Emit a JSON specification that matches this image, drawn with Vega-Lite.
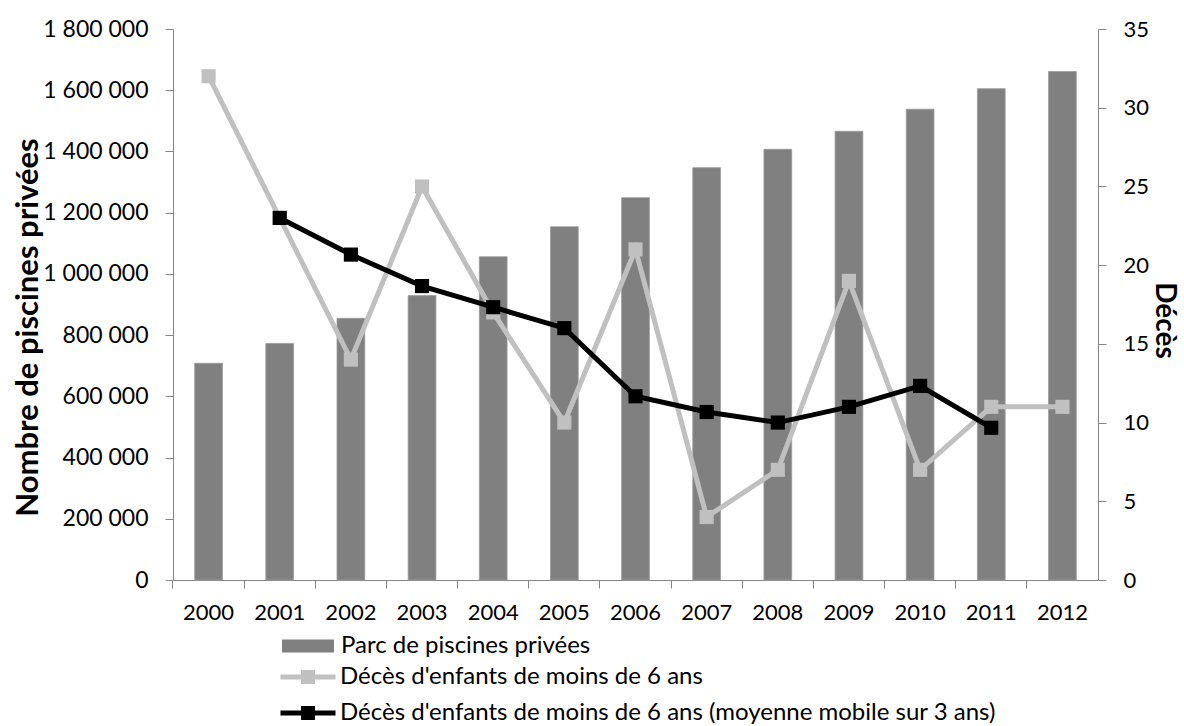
{
  "$schema": "https://vega.github.io/schema/vega-lite/v6.json",
  "width": 925,
  "height": 551,
  "autosize": {"type": "none"},
  "padding": {"left": 173, "top": 29, "right": 86, "bottom": 146},
  "background": "white",
  "config": {
    "font": "Lato",
    "view": {"stroke": null},
    "locale": {"number": {"decimal": ",", "thousands": " ", "grouping": [3], "currency": ["", " €"]}},
    "axis": {
      "domainColor": "#868686",
      "tickColor": "#868686",
      "tickSize": 8,
      "labelFont": "Lato",
      "labelFontSize": 22,
      "labelColor": "#000000",
      "titleFont": "Lato",
      "titleFontSize": 31,
      "titleFontWeight": "bold",
      "titleColor": "#000000",
      "grid": false
    },
    "legend": {
      "title": null,
      "orient": "none",
      "direction": "vertical",
      "labelFont": "Lato",
      "labelFontSize": 24,
      "labelColor": "#000000",
      "labelLimit": 1000,
      "symbolSize": 196,
      "rowPadding": 8
    }
  },
  "data": {
    "values": [
      {"year": "2000", "parc": 708000, "deces": 32, "moyenne": null},
      {"year": "2001", "parc": 773000, "deces": 23, "moyenne": 23},
      {"year": "2002", "parc": 855000, "deces": 14, "moyenne": 20.67},
      {"year": "2003", "parc": 929000, "deces": 25, "moyenne": 18.67},
      {"year": "2004", "parc": 1056000, "deces": 17, "moyenne": 17.33},
      {"year": "2005", "parc": 1154000, "deces": 10, "moyenne": 16},
      {"year": "2006", "parc": 1249000, "deces": 21, "moyenne": 11.67},
      {"year": "2007", "parc": 1347000, "deces": 4, "moyenne": 10.67},
      {"year": "2008", "parc": 1407000, "deces": 7, "moyenne": 10},
      {"year": "2009", "parc": 1466000, "deces": 19, "moyenne": 11},
      {"year": "2010", "parc": 1538000, "deces": 7, "moyenne": 12.33},
      {"year": "2011", "parc": 1605000, "deces": 11, "moyenne": 9.67},
      {"year": "2012", "parc": 1661000, "deces": 11, "moyenne": null}
    ]
  },
  "encoding": {
    "x": {
      "field": "year",
      "type": "ordinal",
      "scale": {"paddingInner": 0, "paddingOuter": 0},
      "axis": {"title": null, "labelAngle": 0, "bandPosition": 0, "labelPadding": 14}
    }
  },
  "layer": [
    {
      "mark": {"type": "bar", "width": {"band": 0.39}, "stroke": "#9a9a9a", "strokeWidth": 0.8},
      "encoding": {
        "y": {
          "field": "parc",
          "type": "quantitative",
          "scale": {"domain": [0, 1800000]},
          "axis": {
            "title": "Nombre de piscines privées",
            "values": [0, 200000, 400000, 600000, 800000, 1000000, 1200000, 1400000, 1600000, 1800000],
            "format": ",d",
            "labelFontSize": 23,
            "labelPadding": 17,
            "titleX": -145,
            "titleY": 298,
            "titleBaseline": "middle",
            "titleAlign": "center",
            "titleAngle": -90
          }
        },
        "fill": {
          "datum": "Parc de piscines privées",
          "type": "nominal",
          "scale": {"domain": ["Parc de piscines privées"], "range": ["#808080"]},
          "legend": {
            "legendX": 123,
            "legendY": 605,
            "labelOffset": 21,
            "symbolStrokeWidth": 0,
            "symbolType": "M-3.714,-0.93H3.714V0.93H-3.714Z"
          }
        }
      }
    },
    {
      "layer": [
        {
          "mark": {"type": "line", "strokeWidth": 5},
          "encoding": {
            "y": {
              "field": "deces",
              "type": "quantitative",
              "scale": {"domain": [0, 35]},
              "axis": {
                "orient": "right",
                "title": "Décès",
                "titleFontSize": 28,
                "values": [0, 5, 10, 15, 20, 25, 30, 35],
                "labelPadding": 17,
                "titleX": 65,
                "titleY": 291,
                "titleBaseline": "middle",
                "titleAlign": "center",
                "titleAngle": 90
              }
            },
            "stroke": {
              "datum": "Décès d'enfants de moins de 6 ans",
              "type": "nominal",
              "scale": {
                "domain": ["Décès d'enfants de moins de 6 ans", "Décès d'enfants de moins de 6 ans (moyenne mobile sur 3 ans)"],
                "range": ["#c0c0c0", "#000000"]
              },
              "legend": {
                "legendX": 123,
                "legendY": 636,
                "labelOffset": 20,
                "rowPadding": 6,
                "symbolStrokeWidth": 5,
                "symbolFillColor": "transparent",
                "symbolType": "M-3.93,0H3.93M-1,-0.64H1M-1,0.64H1"
              }
            }
          }
        },
        {
          "mark": {"type": "square", "size": 200, "color": "#c0c0c0", "opacity": 1},
          "encoding": {
            "y": {"field": "deces", "type": "quantitative", "title": "Décès"}
          }
        },
        {
          "transform": [{"filter": "isValid(datum.moyenne)"}],
          "mark": {"type": "line", "strokeWidth": 5},
          "encoding": {
            "y": {"field": "moyenne", "type": "quantitative", "title": "Décès"},
            "stroke": {"datum": "Décès d'enfants de moins de 6 ans (moyenne mobile sur 3 ans)", "type": "nominal"}
          }
        },
        {
          "transform": [{"filter": "isValid(datum.moyenne)"}],
          "mark": {"type": "square", "size": 200, "color": "#000000", "opacity": 1},
          "encoding": {
            "y": {"field": "moyenne", "type": "quantitative", "title": "Décès"}
          }
        }
      ]
    }
  ],
  "resolve": {"scale": {"y": "independent"}}
}
